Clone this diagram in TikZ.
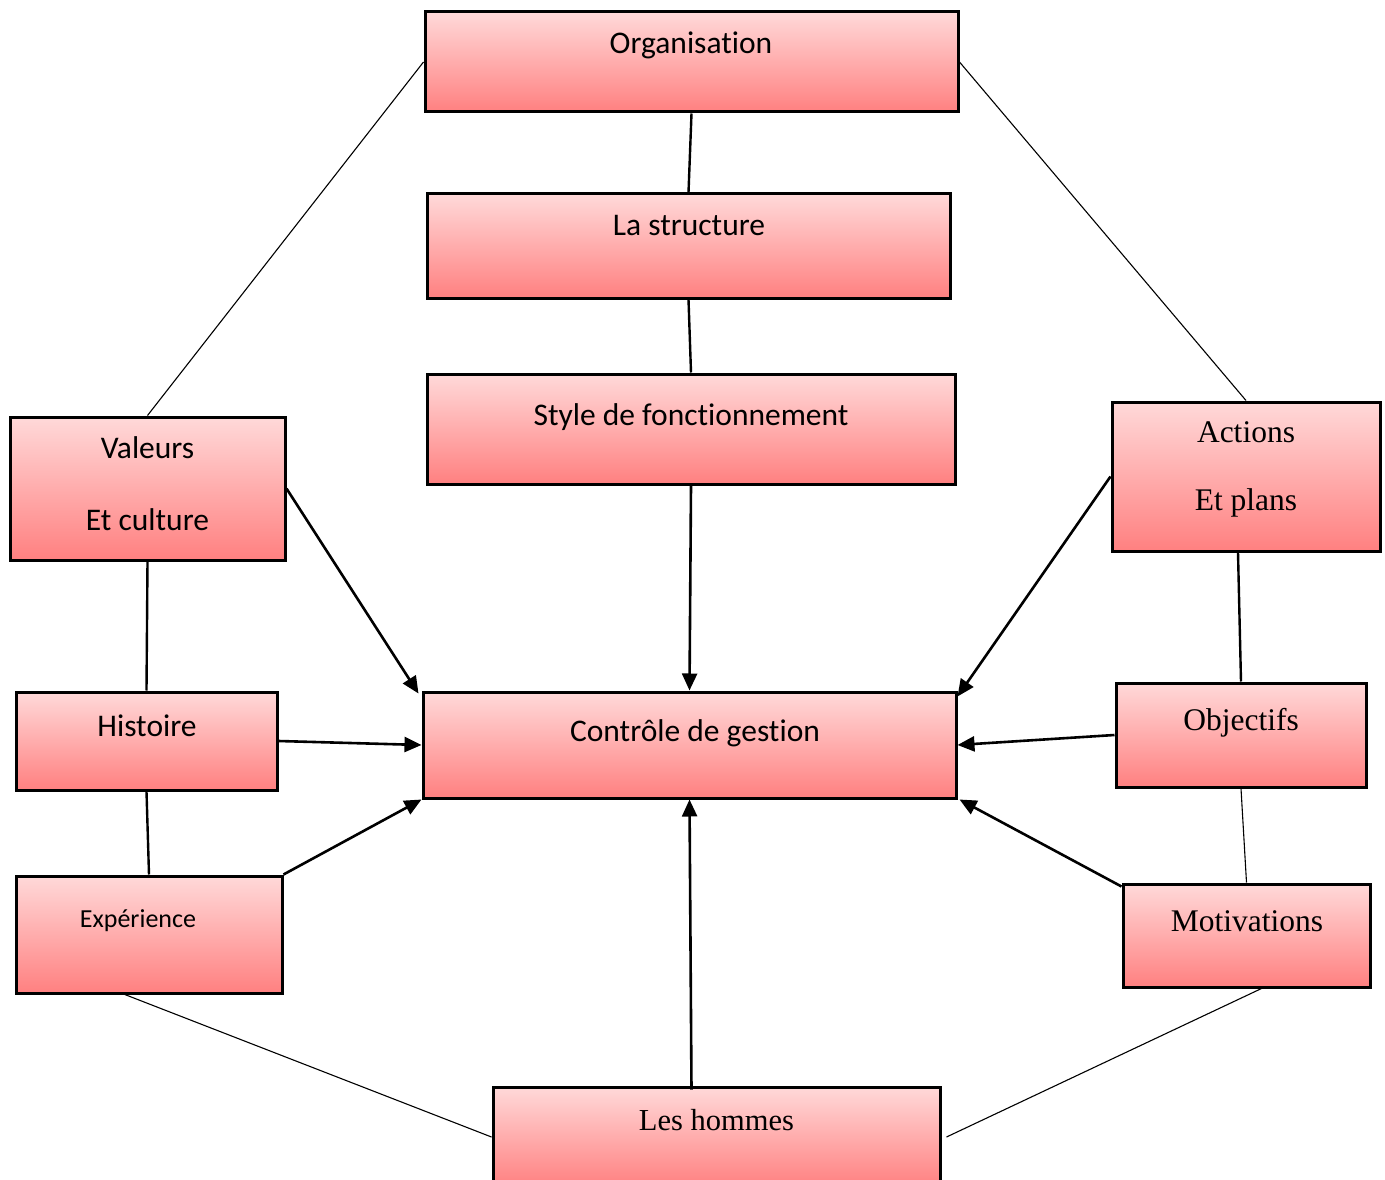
\documentclass[tikz,border=0pt]{standalone}
\usepackage{fontspec}
\usetikzlibrary{arrows.meta,calc}
\newfontfamily\fCal[Ligatures=NoCommon]{Carlito}
\newfontfamily\fSer{Liberation Serif}
\definecolor{boxtop}{RGB}{255,217,217}
\definecolor{boxbot}{RGB}{255,128,128}
\tikzset{
  box/.style={draw=black, line width=3pt, top color=boxtop, bottom color=boxbot,
    rectangle, inner sep=0pt},
  lbl/.style={anchor=base, inner sep=0pt, text=black},
  cal/.style={lbl, font=\fCal\fontsize{31.5}{38}\selectfont},
  ser/.style={lbl, font=\fSer\fontsize{31.5}{38}\selectfont},
  thickline/.style={line width=2.4pt},
  thinline/.style={line width=1.1pt},
  arr/.style={line width=2.6pt, -{Triangle[length=17pt,width=15pt]}}
}
\begin{document}
\begin{tikzpicture}[x=1pt,y=-1pt]
\useasboundingbox (0,0) rectangle (1385,1180);

% boxes
\node[box, minimum width=533pt, minimum height=100pt] (org) at (691.5,62) {};
\node[box, minimum width=523pt, minimum height=104pt] (str) at (688.5,246) {};
\node[box, minimum width=528pt, minimum height=110pt] (sty) at (691,429) {};
\node[box, minimum width=275pt, minimum height=143pt] (val) at (147.5,488.5) {};
\node[box, minimum width=268pt, minimum height=149pt] (act) at (1246,476.5) {};
\node[box, minimum width=261pt, minimum height=98pt]  (his) at (146.5,741) {};
\node[box, minimum width=533pt, minimum height=106pt] (ctl) at (689.5,745) {};
\node[box, minimum width=250pt, minimum height=104pt] (obj) at (1241,735) {};
\node[box, minimum width=266pt, minimum height=117pt] (exp) at (149,934.5) {};
\node[box, minimum width=247pt, minimum height=103pt] (mot) at (1246.5,935.5) {};
\node[box, minimum width=447pt, minimum height=100pt] (hom) at (716.5,1137) {};

% labels
\node[cal] (orgT) at (691,54) {Organisation};
\node[cal] (strT) at (689,235) {La structure};
\node[cal] (styT) at (691,425) {Style de fonctionnement};
\node[cal] (valT1) at (147.5,458) {Valeurs};
\node[cal] (valT2) at (147.5,530) {Et culture};
\node[ser] (actT1) at (1246,442) {Actions};
\node[ser] (actT2) at (1246,510) {Et plans};
\node[cal] (hisT) at (147,736) {Histoire};
\node[cal] (ctlT) at (695,741) {Contrôle de gestion};
\node[ser] (objT) at (1241,730) {Objectifs};
\node[ser] (motT) at (1247,931) {Motivations};
\node[lbl, font=\fCal\fontsize{26}{31}\selectfont] (expT) at (138,927) {Expérience};
\node[lbl, font=\fSer\fontsize{30.5}{37}\selectfont] (homT) at (716.5,1130) {Les hommes};

% plain links
\draw[thickline] (org.south) -- (str.north);
\draw[thickline] (str.south) -- (sty.north);
\draw[thickline] (val.south) -- (his.north);
\draw[thickline] (his.south) -- (exp.north);
\draw[thickline] (obj.north) -- ([xshift=-8pt]act.south);
\draw[thinline] (org.west) -- (val.north);
\draw[thinline] (org.east) -- (act.north);
\draw[thinline] ($(exp.south west)!0.41!(exp.south east)$) -- (hom.west);
\draw[thinline] ([xshift=5pt]hom.east) -- ([xshift=15pt]mot.south);
\draw[thinline] (obj.south) -- (mot.north);

% arrows into the central box
\draw[arr] (sty.south) -- (ctl.north);
\draw[arr] (val.east) -- ([shift={(-3pt,-3pt)}]ctl.north west);
\draw[arr] (his.east) -- (ctl.west);
\draw[arr] (exp.north east) -- (ctl.south west);
\draw[arr] ([xshift=2pt,yshift=-4pt]hom.north -| ctl.south) -- (ctl.south);
\draw[arr] ([yshift=-4pt]mot.north west) -- ([xshift=2pt]ctl.south east);
\draw[arr] (obj.west) -- (ctl.east);
\draw[arr] (act.west) -- ([shift={(0pt,-6pt)}]ctl.north east);
\end{tikzpicture}
\end{document}
